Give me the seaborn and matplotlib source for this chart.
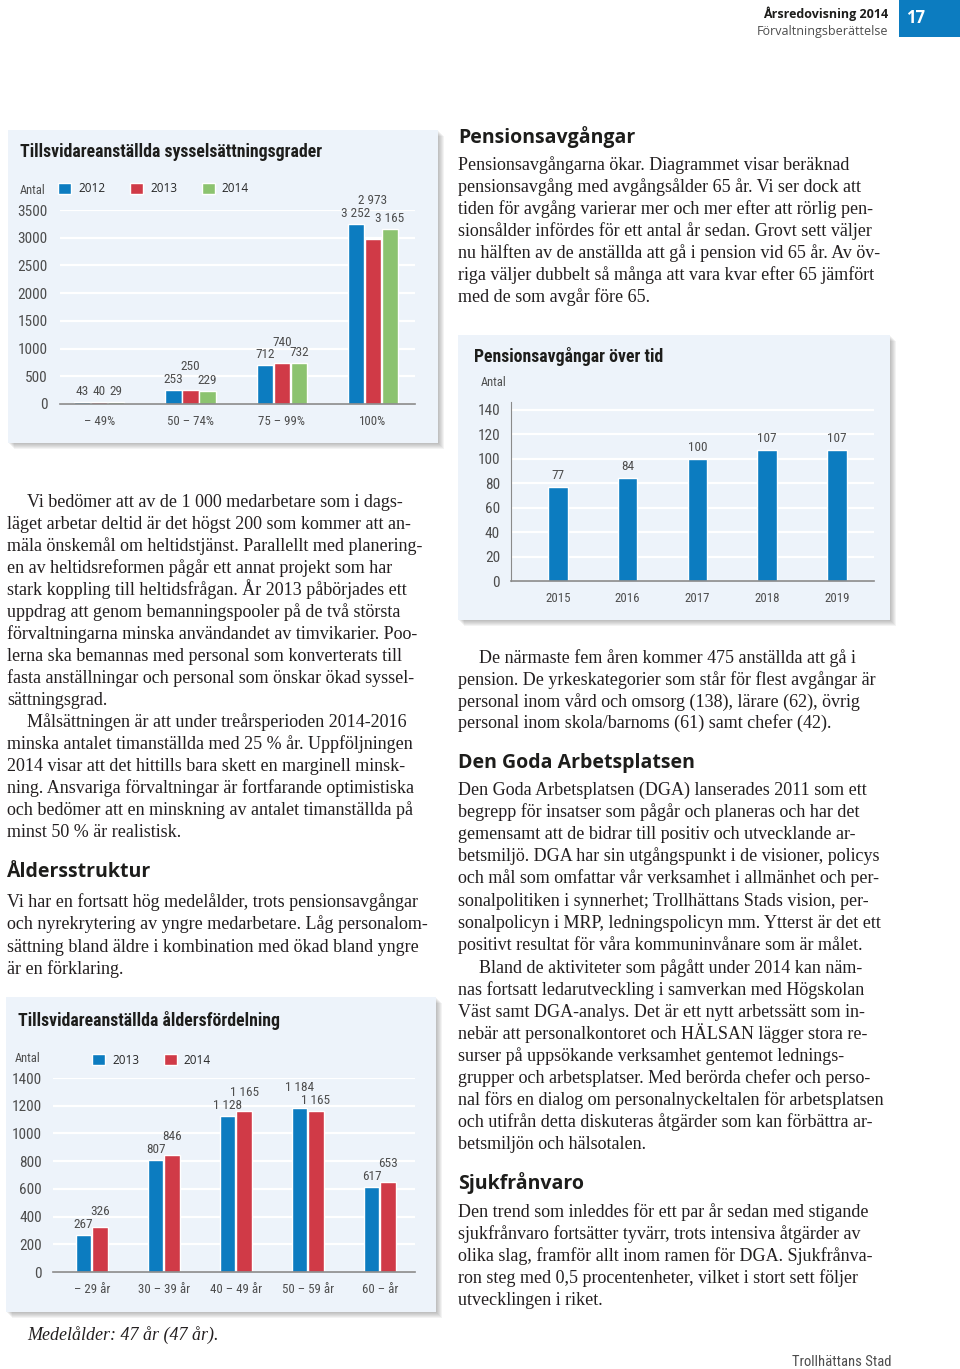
import matplotlib
matplotlib.use("Agg")
import matplotlib.pyplot as plt
import matplotlib.font_manager as fm
from matplotlib.patches import Rectangle
import seaborn as sns
import pandas as pd

# ---------------- data ----------------
grad_kategorier = ["– 49%", "50 – 74%", "75 – 99%", "100%"]
grad_ar = ["2012", "2013", "2014"]
grad_2012 = [43, 253, 712, 3252]
grad_2013 = [40, 250, 740, 2973]
grad_2014 = [29, 229, 732, 3165]

pension_ar = ["2015", "2016", "2017", "2018", "2019"]
pension_antal = [77, 84, 100, 107, 107]

alder_kategorier = ["– 29 år", "30 – 39 år", "40 – 49 år", "50 – 59 år", "60 – år"]
alder_ar = ["2013", "2014"]
alder_2013 = [267, 807, 1128, 1184, 617]
alder_2014 = [326, 846, 1165, 1165, 653]

grad_ticks = [0, 500, 1000, 1500, 2000, 2500, 3000, 3500]
pension_ticks = [0, 20, 40, 60, 80, 100, 120, 140]
alder_ticks = [0, 200, 400, 600, 800, 1000, 1200, 1400]

# ---------------- style ----------------
BLUE = "#0c7cc0"
RED = "#d03a47"
GREEN = "#8cc36f"
PANEL = "#edf3fa"
TXT = "#231f20"
GREY = "#4d4d4d"

names = {f.name for f in fm.fontManager.ttflist}


def pick(*cands):
    return next((c for c in cands if c in names), "DejaVu Sans")


COND = pick("Liberation Sans Narrow", "Roboto Condensed", "Roboto")
SANS = pick("Open Sans", "Noto Sans", "DejaVu Sans")
SERIF = pick("Liberation Serif", "DejaVu Serif")

sns.set_style("white")
plt.rcParams["font.family"] = [COND, "DejaVu Sans"]

W, H = 960, 1369
fig = plt.figure(figsize=(W / 100, H / 100), dpi=100)
fig.patch.set_facecolor("white")

# page axes in pixel coordinates
page = fig.add_axes([0, 0, 1, 1])
page.set_xlim(0, W)
page.set_ylim(H, 0)
page.axis("off")


def rect(x0, y0, x1, y1):
    return [x0 / W, 1 - y1 / H, (x1 - x0) / W, (y1 - y0) / H]


def panel(x0, y0, x1, y1):
    for k in range(1, 7):
        page.add_patch(Rectangle((x0 + k, y0 + k), x1 - x0, y1 - y0,
                                 color="#555555", alpha=0.07, lw=0))
    page.add_patch(Rectangle((x0, y0), x1 - x0, y1 - y0, color=PANEL, lw=0))


def lines(x, y0, step, rows, indent=0):
    for i, row in enumerate(rows):
        page.text(x + (indent if i == 0 else 0), y0 + i * step, row,
                  family=SERIF, fontsize=13, color=TXT, va="baseline")


def heading(x, y, s):
    page.text(x, y, s, family=SANS, fontweight="bold", fontsize=14,
              color="#1d1d1b", va="baseline")


def fmt(v):
    return f"{v:,}".replace(",", " ")


def label_groups(ax, series, raise_fn=None, base=4, step=13):
    conts = ax.containers
    for j in range(len(series[0])):
        bars = [c.patches[j] for c in conts]
        vals = [s[j] for s in series]
        xs = [b.get_x() + b.get_width() / 2 for b in bars]
        tops = [ax.transData.transform((x, v))[1] for x, v in zip(xs, vals)]
        bottoms = [t + base for t in tops]
        k = raise_fn(vals) if raise_fn else None
        if k is not None:
            others = [bottoms[i] for i in range(len(vals)) if i != k]
            lift = step if len(vals) == 2 or vals[k] < max(vals) else 10
            bottoms[k] = max(bottoms[k], max(others) + lift)
        for x, v, t, b in zip(xs, vals, tops, bottoms):
            ax.annotate(fmt(v), (x, v), xytext=(0, b - t), textcoords="offset pixels",
                        ha="center", va="bottom", fontsize=9.5, color=GREY)


def style_axes(ax, ticks, ymax, xlim, ypad, left_spine=False):
    ax.set_facecolor("none")
    ax.set_ylim(0, ymax)
    ax.set_xlim(*xlim)
    ax.set_yticks(ticks)
    ax.yaxis.grid(True, color="white", lw=1.6)
    ax.set_axisbelow(True)
    for s in ["top", "right"]:
        ax.spines[s].set_visible(False)
    ax.spines["left"].set_visible(left_spine)
    ax.spines["left"].set_color("#8a8a8a")
    ax.spines["bottom"].set_color("#8a8a8a")
    ax.spines["bottom"].set_linewidth(1.2)
    ax.tick_params(axis="y", length=0, pad=ypad, labelsize=11, labelcolor=GREY)
    ax.tick_params(axis="x", length=0, pad=8, labelsize=9.3, labelcolor=GREY)
    ax.set_xlabel("")
    ax.set_ylabel("")


def legend(ax, x, y):
    handles, labels = ax.get_legend_handles_labels()
    if ax.get_legend():
        ax.get_legend().remove()
    ax.legend(handles, labels, ncol=len(labels), loc="center left",
              bbox_to_anchor=(x / W, 1 - y / H), bbox_transform=fig.transFigure,
              frameon=False, borderpad=0, borderaxespad=0, handlelength=1.1,
              handleheight=1.1, handletextpad=0.6, columnspacing=2.1,
              prop={"family": SANS, "size": 8.5})


# ---------------- header / footer ----------------
page.add_patch(Rectangle((899, 0), 61, 37, color=BLUE, lw=0))
page.text(906, 18, "17", family=SANS, fontweight="bold", fontsize=12,
          color="white", va="center")
page.text(888, 14, "Årsredovisning 2014", family=SANS, fontweight="bold",
          fontsize=9, color="#1d1d1b", ha="right", va="center")
page.text(888, 31, "Förvaltningsberättelse", family=SANS, fontsize=9,
          color=GREY, ha="right", va="center")
page.text(892, 1362, "Trollhättans Stad", fontsize=10.5, color=GREY,
          ha="right", va="center")
page.text(27, 1340, "Medelålder: 47 år (47 år).", family=SERIF, style="italic",
          fontsize=13, color=TXT, va="baseline")

# ---------------- chart 1 ----------------
panel(8, 130, 438, 443)
page.text(20, 152, "Tillsvidareanställda sysselsättningsgrader",
          fontweight="bold", fontsize=12.8, color="#1d1d1b", va="center")
page.text(20, 191, "Antal", fontsize=9, color=GREY, va="center")

df1 = pd.DataFrame({
    "kategori": grad_kategorier * 3,
    "antal": grad_2012 + grad_2013 + grad_2014,
    "år": [a for a in grad_ar for _ in grad_kategorier],
})
ax1 = fig.add_axes(rect(60, 210, 415, 404))
sns.barplot(data=df1, x="kategori", y="antal", hue="år", hue_order=grad_ar,
            palette=[BLUE, RED, GREEN], width=0.56, gap=0.05, saturation=1,
            ax=ax1)
style_axes(ax1, grad_ticks, 3500, (-0.43, 3.46), ypad=9)
legend(ax1, 58, 189)
label_groups(ax1, [grad_2012, grad_2013, grad_2014],
             raise_fn=lambda v: 1 if max(v) >= 100 else None)

# ---------------- chart 2 ----------------
panel(458, 335, 890, 620)
page.text(474, 356, "Pensionsavgångar över tid", fontweight="bold",
          fontsize=12.8, color="#1d1d1b", va="center")
page.text(481, 383, "Antal", fontsize=9, color=GREY, va="center")

ax2 = fig.add_axes(rect(511, 402, 874, 581))
sns.barplot(x=pension_ar, y=pension_antal, color=BLUE, saturation=1,
            width=0.28, ax=ax2)
style_axes(ax2, pension_ticks, 146.5, (-0.67, 4.53), ypad=8, left_spine=True)
label_groups(ax2, [pension_antal], base=5)

# ---------------- chart 3 ----------------
panel(6, 997, 436, 1312)
page.text(18, 1020, "Tillsvidareanställda åldersfördelning", fontweight="bold",
          fontsize=12.8, color="#1d1d1b", va="center")
page.text(15, 1058, "Antal", fontsize=9, color=GREY, va="center")

df3 = pd.DataFrame({
    "kategori": alder_kategorier * 2,
    "antal": alder_2013 + alder_2014,
    "år": [a for a in alder_ar for _ in alder_kategorier],
})
ax3 = fig.add_axes(rect(53, 1078, 415, 1272))
sns.barplot(data=df3, x="kategori", y="antal", hue="år", hue_order=alder_ar,
            palette=[BLUE, RED], width=0.46, gap=0.05, saturation=1, ax=ax3)
style_axes(ax3, alder_ticks, 1400, (-0.54, 4.49), ypad=8)
legend(ax3, 92, 1060)
label_groups(ax3, [alder_2013, alder_2014],
             raise_fn=lambda v: v.index(max(v)))

# ---------------- body text ----------------
heading(458, 143, "Pensionsavgångar")
lines(458, 170, 22, [
    "Pensionsavgångarna ökar. Diagrammet visar beräknad",
    "pensionsavgång med avgångsålder 65 år. Vi ser dock att",
    "tiden för avgång varierar mer och mer efter att rörlig pen-",
    "sionsålder infördes för ett antal år sedan. Grovt sett väljer",
    "nu hälften av de anställda att gå i pension vid 65 år. Av öv-",
    "riga väljer dubbelt så många att vara kvar efter 65 jämfört",
    "med de som avgår före 65.",
])

lines(7, 506.7, 22, [
    "Vi bedömer att av de 1 000 medarbetare som i dags-",
    "läget arbetar deltid är det högst 200 som kommer att an-",
    "mäla önskemål om heltidstjänst. Parallellt med planering-",
    "en av heltidsreformen pågår ett annat projekt som har",
    "stark koppling till heltidsfrågan. År 2013 påbörjades ett",
    "uppdrag att genom bemanningspooler på de två största",
    "förvaltningarna minska användandet av timvikarier. Poo-",
    "lerna ska bemannas med personal som konverterats till",
    "fasta anställningar och personal som önskar ökad syssel-",
    "sättningsgrad.",
], indent=20)
lines(7, 506.7 + 10 * 22, 22, [
    "Målsättningen är att under treårsperioden 2014-2016",
    "minska antalet timanställda med 25 % år. Uppföljningen",
    "2014 visar att det hittills bara skett en marginell minsk-",
    "ning. Ansvariga förvaltningar är fortfarande optimistiska",
    "och bedömer att en minskning av antalet timanställda på",
    "minst 50 % är realistisk.",
], indent=20)

heading(7, 877, "Åldersstruktur")
lines(7, 906.7, 22.4, [
    "Vi har en fortsatt hög medelålder, trots pensionsavgångar",
    "och nyrekrytering av yngre medarbetare. Låg personalom-",
    "sättning bland äldre i kombination med ökad bland yngre",
    "är en förklaring.",
])

lines(458, 663.3, 21.7, [
    "De närmaste fem åren kommer 475 anställda att gå i",
    "pension. De yrkeskategorier som står för flest avgångar är",
    "personal inom vård och omsorg (138), lärare (62), övrig",
    "personal inom skola/barnoms (61) samt chefer (42).",
], indent=21)

heading(458, 768.3, "Den Goda Arbetsplatsen")
lines(458, 795, 22.1, [
    "Den Goda Arbetsplatsen (DGA) lanserades 2011 som ett",
    "begrepp för insatser som pågår och planeras och har det",
    "gemensamt att de bidrar till positiv och utvecklande ar-",
    "betsmiljö. DGA har sin utgångspunkt i de visioner, policys",
    "och mål som omfattar vår verksamhet i allmänhet och per-",
    "sonalpolitiken i synnerhet; Trollhättans Stads vision, per-",
    "sonalpolicyn i MRP, ledningspolicyn mm. Ytterst är det ett",
    "positivt resultat för våra kommuninvånare som är målet.",
])
lines(458, 973.3, 21.96, [
    "Bland de aktiviteter som pågått under 2014 kan näm-",
    "nas fortsatt ledarutveckling i samverkan med Högskolan",
    "Väst samt DGA-analys. Det är ett nytt arbetssätt som in-",
    "nebär att personalkontoret och HÄLSAN lägger stora re-",
    "surser på uppsökande verksamhet gentemot lednings-",
    "grupper och arbetsplatser. Med berörda chefer och perso-",
    "nal förs en dialog om personalnyckeltalen för arbetsplatsen",
    "och utifrån detta diskuteras åtgärder som kan förbättra ar-",
    "betsmiljön och hälsotalen.",
], indent=21)

heading(458, 1189.3, "Sjukfrånvaro")
lines(458, 1216.7, 22.1, [
    "Den trend som inleddes för ett par år sedan med stigande",
    "sjukfrånvaro fortsätter tyvärr, trots intensiva åtgärder av",
    "olika slag, framför allt inom ramen för DGA. Sjukfrånva-",
    "ron steg med 0,5 procentenheter, vilket i stort sett följer",
    "utvecklingen i riket.",
])

fig.savefig("out.png", dpi=100)
